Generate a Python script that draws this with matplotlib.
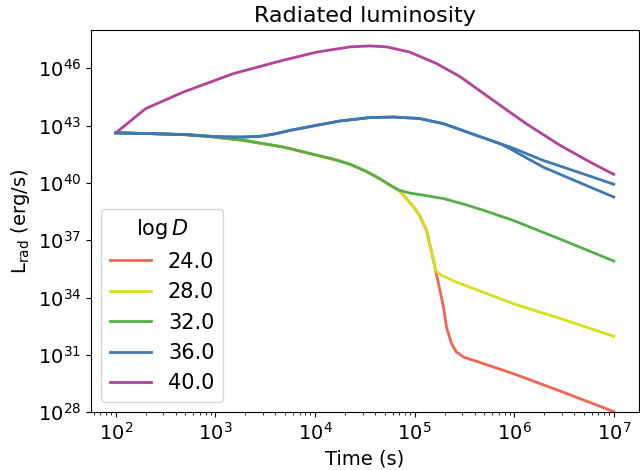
import numpy as np
import matplotlib
matplotlib.use("Agg")
import matplotlib.pyplot as plt

# log10(time) / log10(L)
t_24 = [2.0, 2.35, 2.71, 2.95, 3.28, 3.68, 4.02, 4.2, 4.35, 4.5, 4.65, 4.78, 4.85, 4.89, 4.99,
        5.05, 5.12, 5.15, 5.19, 5.21, 5.24, 5.29, 5.32, 5.37, 5.42, 5.49, 5.99, 6.49, 7.0]
L_24 = [42.62, 42.58, 42.52, 42.42, 42.23, 41.88, 41.45, 41.22, 40.98, 40.64, 40.22, 39.8, 39.58,
        39.35, 38.74, 38.30, 37.52, 36.82, 35.95, 35.42, 34.73, 33.5, 32.46, 31.59, 31.15,
        30.89, 30.02, 29.05, 28.03]

t_28 = [2.0, 2.35, 2.71, 2.95, 3.28, 3.68, 4.02, 4.2, 4.35, 4.5, 4.65, 4.78, 4.85, 4.89, 4.99,
        5.05, 5.12, 5.15, 5.19, 5.21, 5.27, 5.42, 5.99, 6.49, 7.0]
L_28 = [42.62, 42.58, 42.52, 42.42, 42.23, 41.88, 41.45, 41.22, 40.98, 40.64, 40.22, 39.8, 39.58,
        39.35, 38.74, 38.30, 37.52, 36.82, 35.95, 35.42, 35.16, 34.81, 33.68, 32.86, 31.97]

t_32 = [2.0, 2.35, 2.71, 2.95, 3.28, 3.68, 4.02, 4.2, 4.35, 4.5, 4.65, 4.78, 4.85, 4.95, 5.1,
        5.29, 5.5, 5.69, 5.99, 6.49, 7.0]
L_32 = [42.62, 42.58, 42.52, 42.42, 42.23, 41.88, 41.45, 41.22, 40.98, 40.64, 40.22, 39.8, 39.61,
        39.47, 39.35, 39.18, 38.88, 38.57, 38.04, 37.0, 35.91]

t_36 = [2.0, 2.35, 2.71, 2.95, 3.1, 3.28, 3.45, 3.6, 3.75, 4.02, 4.25, 4.55, 4.79, 5.05, 5.29,
        5.62, 5.86, 5.96, 6.29, 6.65, 7.0]
L_36 = [42.62, 42.58, 42.53, 42.44, 42.41, 42.40, 42.44, 42.57, 42.75, 43.02, 43.24, 43.42, 43.45,
        43.37, 43.10, 42.49, 42.05, 41.88, 41.18, 40.55, 39.93]
L_36b = [42.62, 42.58, 42.53, 42.44, 42.41, 42.40, 42.44, 42.57, 42.75, 43.02, 43.24, 43.42, 43.45,
         43.37, 43.10, 42.49, 42.05, 41.78, 40.83, 40.03, 39.26]

t_40 = [2.0, 2.3, 2.68, 3.18, 3.68, 4.02, 4.35, 4.55, 4.72, 4.95, 5.22, 5.46, 5.79, 6.12,
        6.46, 6.79, 7.0]
L_40 = [42.62, 43.89, 44.76, 45.72, 46.42, 46.85, 47.12, 47.17, 47.12, 46.85, 46.25, 45.55,
        44.32, 43.10, 41.97, 41.01, 40.45]

labels = ["24.0", "28.0", "32.0", "36.0", "40.0"]
colors = ["#f26552", "#d9de1c", "#55b04a", "#3f79b0", "#b3429b"]

fig = plt.figure(figsize=(6.4, 4.7), dpi=100)
ax = fig.add_axes([0.142, 0.123, 0.856, 0.813])

series = [(t_24, L_24), (t_28, L_28), (t_32, L_32), (t_36, L_36), (t_40, L_40)]
for (t, L), lab, c in zip(series, labels, colors):
    ax.plot(10 ** np.array(t), 10 ** np.array(L), color=c, lw=2, label=lab)
ax.plot(10 ** np.array(t_36), 10 ** np.array(L_36b), color=colors[3], lw=2, label="_nolegend_")

ax.set_xscale("log")
ax.set_yscale("log")
ax.set_xlim(10 ** 1.75, 10 ** 7.25)
ax.set_ylim(1e28, 1e48)
ax.set_yticks([10.0 ** k for k in range(28, 47, 3)])
ax.tick_params(labelsize=14)
ax.tick_params(axis="y", which="minor", left=False)
ax.set_xlabel("Time (s)", fontsize=14)
ax.set_ylabel(r"L$_{\rm rad}$ (erg/s)", fontsize=14)
ax.set_title("Radiated luminosity", fontsize=16)
ax.legend(title=r"$\log D$", fontsize=15, title_fontsize=15, loc="lower left")

fig.savefig("out.png", dpi=100)
